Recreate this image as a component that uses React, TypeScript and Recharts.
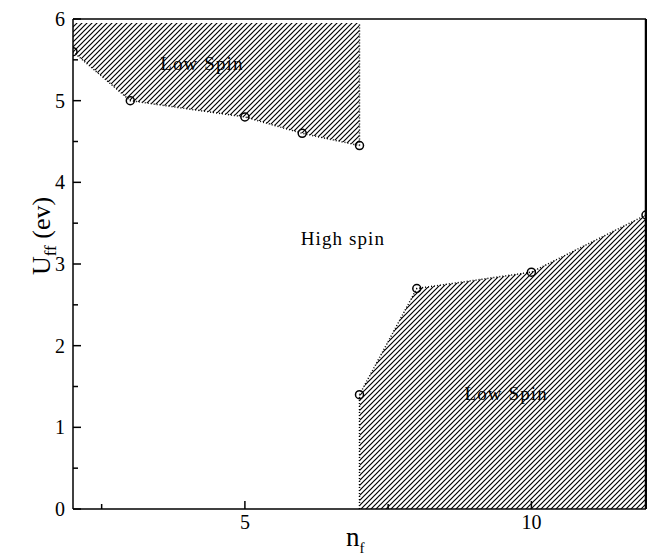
import React from "react"
import { ComposedChart, Area, Line, XAxis, YAxis, ReferenceLine, ReferenceDot } from "recharts"

const FONT = '"Liberation Serif", "DejaVu Serif", serif'

// phase boundary points (n_f, U_ff)
const nf = [2, 3, 5, 6, 7, 8, 10, 12]
const upperBoundary = [5.6, 5.0, 4.8, 4.6, 4.45, null, null, null]
const lowerBoundary = [null, null, null, null, 1.4, 2.7, 2.9, 3.6]
const upperTop = 5.95

const xTicks = [2.5, 5, 7.5, 10]
const yTicks = [0, 0.5, 1, 1.5, 2, 2.5, 3, 3.5, 4, 4.5, 5, 5.5, 6]

const labels = [
  { x: 4.25, y: 5.46, text: "Low Spin" },
  { x: 6.71, y: 3.32, text: "High spin" },
  { x: 9.56, y: 1.42, text: "Low Spin" },
]

const data = nf.map((x, i) => ({
  x,
  upper: upperBoundary[i],
  upperRange: upperBoundary[i] == null ? null : [upperBoundary[i], upperTop],
  lower: lowerBoundary[i],
}))

const XTick = (props: any) => {
  const { x, y, payload } = props
  const major = payload.value % 5 === 0
  return (
    <g>
      <line x1={x} x2={x} y1={y} y2={y - (major ? 8 : 5)} stroke="#000" strokeWidth={1.5} />
      {major && (
        <text x={x} y={y + 20} textAnchor="middle" fontFamily={FONT} fontSize={20} fill="#000">
          {payload.value}
        </text>
      )}
    </g>
  )
}

const YTick = (props: any) => {
  const { x, y, payload } = props
  const major = Number.isInteger(payload.value)
  return (
    <g>
      <line x1={x} x2={x + (major ? 8 : 5)} y1={y} y2={y} stroke="#000" strokeWidth={1.5} />
      {major && (
        <text x={x - 8} y={y + 7} textAnchor="end" fontFamily={FONT} fontSize={20} fill="#000">
          {payload.value}
        </text>
      )}
    </g>
  )
}

const Marker = (props: any) => {
  const { cx, cy, value } = props
  if (value == null || cx == null || cy == null) return <g key={props.index} />
  return <circle key={props.index} cx={cx} cy={cy} r={4} fill="none" stroke="#000" strokeWidth={1.5} />
}

export default function App() {
  return (
    <div style={{ position: "absolute", left: 0, top: 0, background: "#fff" }}>
      <ComposedChart width={647} height={557} data={data} margin={{ top: 19, right: 1, bottom: 0, left: 0 }}>
        <defs>
          <pattern id="hatch" width="5" height="5" patternUnits="userSpaceOnUse">
            <path d="M-1,1 l2,-2 M0,5 l5,-5 M4,6 l2,-2" stroke="#000" strokeWidth={1.2} />
          </pattern>
        </defs>
        <XAxis
          type="number"
          dataKey="x"
          domain={[2, 12]}
          ticks={xTicks}
          interval={0}
          height={48}
          tickSize={0}
          tickMargin={0}
          tickLine={false}
          axisLine={{ stroke: "#000", strokeWidth: 1.5 }}
          tick={<XTick />}
          allowDataOverflow
        />
        <YAxis
          type="number"
          domain={[0, 6]}
          ticks={yTicks}
          interval={0}
          width={73}
          tickSize={0}
          tickMargin={0}
          tickLine={false}
          axisLine={{ stroke: "#000", strokeWidth: 1.5 }}
          tick={<YTick />}
        />
        <Line dataKey="upper" stroke="#000" strokeWidth={1.5} strokeDasharray="1 2" dot={<Marker />} activeDot={false} isAnimationActive={false} />
        <Line dataKey="lower" stroke="#000" strokeWidth={1.5} strokeDasharray="1 2" dot={<Marker />} activeDot={false} isAnimationActive={false} />
        <Area type="linear" dataKey="upperRange" stroke="none" fill="url(#hatch)" fillOpacity={1} isAnimationActive={false} activeDot={false} />
        <Area type="linear" dataKey="lower" stroke="none" fill="url(#hatch)" fillOpacity={1} baseValue={0} isAnimationActive={false} activeDot={false} />
        <ReferenceLine segment={[{ x: 7, y: 4.45 }, { x: 7, y: upperTop }]} stroke="#000" strokeWidth={1.5} strokeDasharray="1 2" />
        <ReferenceLine segment={[{ x: 7, y: 0 }, { x: 7, y: 1.4 }]} stroke="#000" strokeWidth={1.5} strokeDasharray="1 2" />
        <ReferenceLine y={6} stroke="#000" strokeWidth={1.5} />
        <ReferenceLine x={12} stroke="#000" strokeWidth={2.5} />
        {labels.map((l, i) => (
          <ReferenceDot
            key={i}
            x={l.x}
            y={l.y}
            r={0}
            stroke="none"
            label={{ value: l.text, position: "center", fill: "#000", fontFamily: FONT, fontSize: 19, letterSpacing: 1.1 }}
          />
        ))}
        <text transform="translate(50,236) rotate(-90)" textAnchor="middle" fontFamily={FONT} fontSize={26} fill="#000">
          U<tspan fontSize={17} dy={6}>ff</tspan>
          <tspan dy={-6}> (ev)</tspan>
        </text>
        <text x={346} y={546} fontFamily={FONT} fontSize={27} fill="#000">
          n<tspan fontSize={15} dy={7}>f</tspan>
        </text>
      </ComposedChart>
    </div>
  )
}
